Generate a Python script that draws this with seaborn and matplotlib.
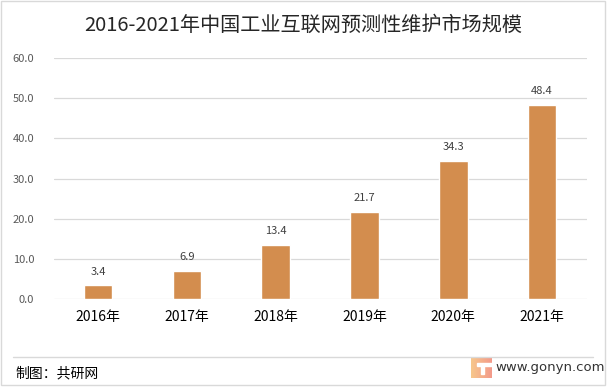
import matplotlib.pyplot as plt
import numpy as np
import pandas as pd
import seaborn as sns
from matplotlib.patches import Rectangle
from matplotlib.lines import Line2D

years = ['2016年', '2017年', '2018年', '2019年', '2020年', '2021年']
values = [3.4, 6.9, 13.4, 21.7, 34.3, 48.4]

df = pd.DataFrame({'year': years, 'value': values})

sns.set_style('white')
plt.rcParams['font.family'] = ['Noto Sans CJK SC', 'DejaVu Sans']

fig = plt.figure(figsize=(6.07, 3.87), dpi=100)
ax = fig.add_axes([0.0883, 0.2274, 0.878, 0.6227])

sns.barplot(data=df, x='year', y='value', color='#D38D4E', width=0.32,
            saturation=1, ax=ax, zorder=3)

ax.set_ylim(0, 60)
ax.set_yticks(np.arange(0, 61, 10))
ax.set_yticklabels([f'{v:.1f}' for v in np.arange(0, 61, 10)], color='#595959', fontsize=8)
ax.yaxis.grid(True, color='#D9D9D9', linewidth=0.9, zorder=0)
ax.set_xlim(-0.5, 5.5)
ax.tick_params(axis='x', labelsize=10, colors='black', length=0, pad=8)
ax.tick_params(axis='y', length=0, pad=14)
ax.set_xlabel('')
ax.set_ylabel('')
for s in ax.spines.values():
    s.set_visible(False)

for i, v in enumerate(values):
    ax.text(i, v + 2.2, f'{v:.1f}', ha='center', va='bottom', fontsize=8, color='#404040')

fig.text(0.5, 0.935, '2016-2021年中国工业互联网预测性维护市场规模', ha='center', va='center',
         fontsize=14.5, fontweight=300, color='#262626')

# footer
fig.add_artist(Line2D([13 / 607, 593 / 607], [1 - 357 / 387, 1 - 357 / 387],
                      color='#D9D9D9', linewidth=1))
fig.text(15 / 607, 1 - 373 / 387, '制图：共研网', ha='left', va='center', fontsize=10, color='black')
fig.text(495 / 607, 1 - 368 / 387, 'www.gonyn.com', ha='left', va='center', fontsize=9.5,
         color='#333333', family=['DejaVu Sans'])

# logo
lax = fig.add_axes([471 / 607, 1 - 378 / 387, 21 / 607, 20 / 387])
grad = np.linspace(0, 1, 50).reshape(1, -1)
lax.imshow(np.repeat(grad, 50, axis=0), cmap=sns.blend_palette(['#F7C78C', '#F39A8A'], as_cmap=True),
           extent=[0, 1, 0, 1], aspect='auto')
lax.add_patch(Rectangle((0.28, 0.6), 0.72, 0.13, color='white'))
lax.add_patch(Rectangle((0.5, 0.22), 0.14, 0.38, color='white'))
lax.set_xlim(0, 1)
lax.set_ylim(0, 1)
lax.axis('off')

# outer border
fig.add_artist(Rectangle((0.5 / 607, 2.5 / 387), 604 / 607, 384 / 387, fill=False,
                         edgecolor='#D9D9D9', linewidth=1))

fig.savefig('out.png', dpi=100)
